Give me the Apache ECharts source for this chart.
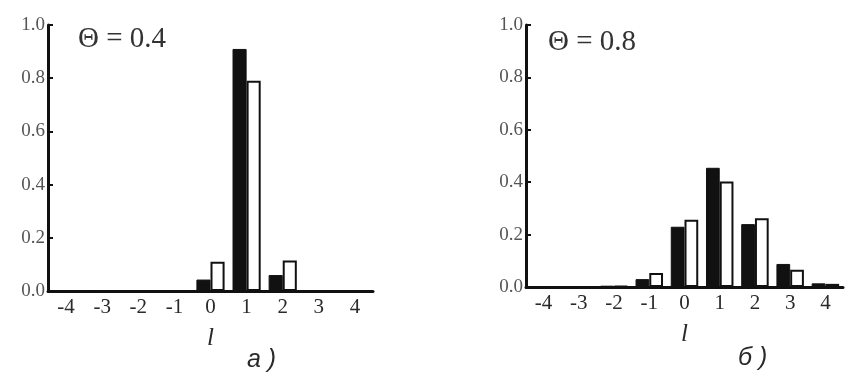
<!DOCTYPE html>
<html><head><meta charset="utf-8">
<script src="https://cdn.jsdelivr.net/npm/echarts@6/dist/echarts.min.js"></script>
<style>html,body{margin:0;padding:0;background:#fff}#c{width:868px;height:385px}</style>
</head><body><div id="c"></div>
<script>
const categories = ['-4','-3','-2','-1','0','1','2','3','4'];
const leftBlack  = [0, 0, 0, 0, 0.043, 0.91, 0.06, 0, 0];
const leftWhite  = [0, 0, 0, 0, 0.11, 0.79, 0.115, 0, 0];
const rightBlack = [0.002, 0, 0.005, 0.03, 0.23, 0.455, 0.24, 0.088, 0.014];
const rightWhite = [0, 0, 0.003, 0.053, 0.257, 0.403, 0.262, 0.066, 0.012];
const yTicks = [0, 0.2, 0.4, 0.6, 0.8, 1.0];
const titles = ['Θ = 0.4', 'Θ = 0.8'];
const captions = ['а )', 'б )'];
const axisName = 'l';

const serif = 'Liberation Serif';
function xAxis(i){
  return {type:'category', gridIndex:i, data:categories,
    axisLine:{lineStyle:{color:'#111', width:3}},
    axisTick:{inside:true, length:5, lineStyle:{color:'#111', width:2}},
    axisLabel:{fontFamily:serif, fontSize:21, color:'#2a2a2a', margin:6},
    name:axisName, nameLocation:'middle', nameGap:35,
    nameTextStyle:{fontFamily:serif, fontStyle:'italic', fontSize:25, color:'#2a2a2a'}};
}
function yAxis(i){
  return {type:'value', gridIndex:i, min:yTicks[0], max:yTicks[yTicks.length-1], interval:0.2,
    splitLine:{show:false},
    axisLine:{show:true, lineStyle:{color:'#111', width:3}},
    axisTick:{show:true, inside:true, length:5, lineStyle:{color:'#111', width:2}},
    axisLabel:{fontFamily:serif, fontSize:19, color:'#555', margin:3, formatter:v=>v.toFixed(1)}};
}
function bars(i, black, white){
  return [
    {type:'bar', xAxisIndex:i, yAxisIndex:i, data:black, barGap:'0%', barCategoryGap:'22%',
     itemStyle:{color:'#111', borderColor:'#111', borderWidth:1}},
    {type:'bar', xAxisIndex:i, yAxisIndex:i, data:white, barGap:'0%', barCategoryGap:'22%',
     itemStyle:{color:'#fff', borderColor:'#111', borderWidth:2}}
  ];
}
const titleFont = '29px "Liberation Serif", serif';
const capFont = 'italic 25px "Liberation Sans", sans-serif';
const chart = echarts.init(document.getElementById('c'), null, {renderer:'canvas'});
chart.setOption({
  animation:false,
  backgroundColor:'#fff',
  graphic:[
    {type:'text', left:78, top:25, style:{text:titles[0], font:titleFont, fill:'#333'}},
    {type:'text', left:548, top:28, style:{text:titles[1], font:titleFont, fill:'#333'}},
    {type:'text', left:247, top:348, style:{text:captions[0], font:capFont, fill:'#2a2a2a'}},
    {type:'text', left:738, top:346, style:{text:captions[1], font:capFont, fill:'#2a2a2a'}}
  ],
  grid:[
    {left:48, top:25, width:325, height:266},
    {left:526, top:25, width:317, height:262}
  ],
  xAxis:[xAxis(0), xAxis(1)],
  yAxis:[yAxis(0), yAxis(1)],
  series:[...bars(0, leftBlack, leftWhite), ...bars(1, rightBlack, rightWhite)]
});
</script></body></html>
